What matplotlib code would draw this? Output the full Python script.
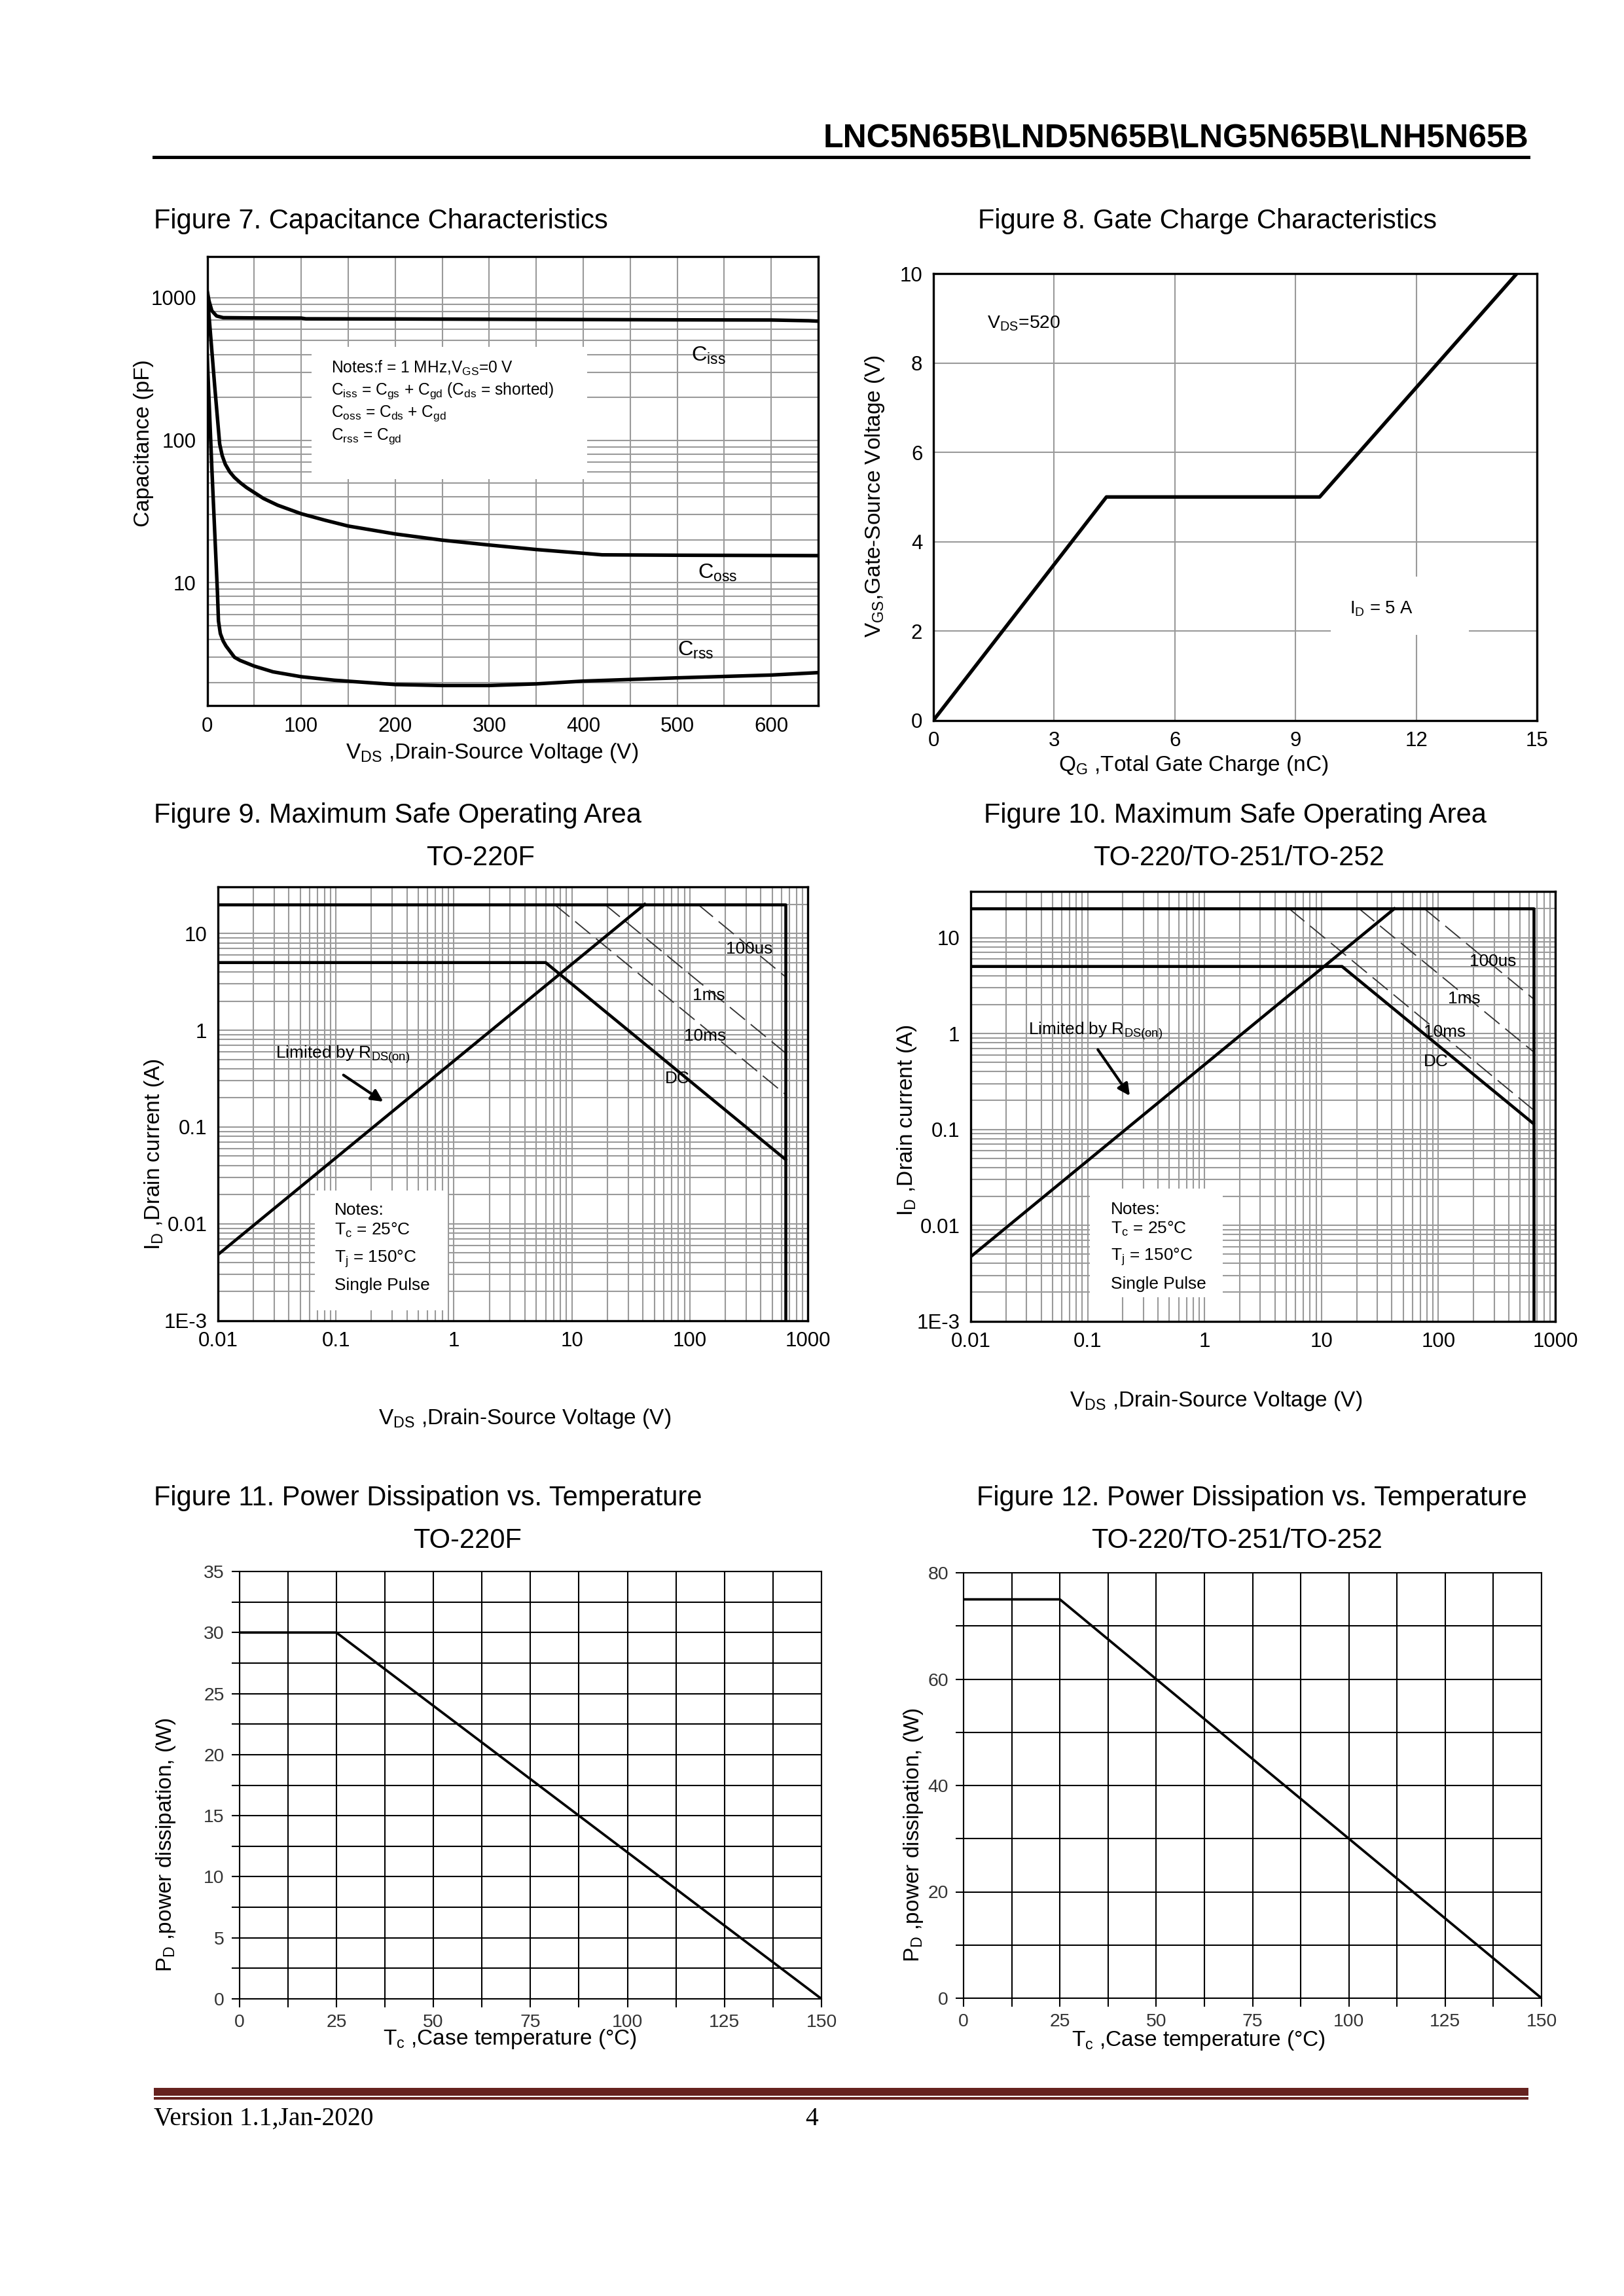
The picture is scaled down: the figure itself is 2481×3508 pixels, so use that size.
import matplotlib
matplotlib.use("Agg")
import matplotlib.pyplot as plt
from matplotlib import font_manager
from matplotlib.patches import Rectangle
from matplotlib.lines import Line2D
from matplotlib.ticker import MultipleLocator, LogLocator, NullFormatter, FixedLocator

# ---------------- data ----------------
# Figure 7 - capacitance (V, pF)
ciss_v = [0, 2, 5, 10, 17, 50, 100, 105, 200, 350, 500, 600, 640, 650]
ciss_c = [1120, 950, 810, 745, 725, 722, 720, 712, 710, 705, 700, 698, 690, 685]
coss_v = [0, 4, 8, 13.3, 16, 19.3, 24, 28.8, 35, 42, 50, 60, 75, 100, 125, 150, 200, 250, 300, 350, 400, 420, 500, 650]
coss_c = [1080, 510, 240, 94, 78, 67.8, 60, 55, 50.5, 46.5, 43, 39, 35, 30.5, 27.5, 25, 22, 19.9, 18.4, 17.1, 16.1, 15.7, 15.6, 15.5]
crss_v = [0, 5, 10.9, 12, 14, 17, 20, 29, 35, 50, 70, 100, 135, 200, 250, 300, 350, 400, 500, 600, 650]
crss_c = [400, 63, 8.6, 5.4, 4.4, 3.9, 3.6, 3.0, 2.85, 2.6, 2.37, 2.19, 2.07, 1.93, 1.9, 1.9, 1.95, 2.04, 2.15, 2.25, 2.34]

# Figure 8 - gate charge
qg_nc = [0, 4.3, 9.6, 14.5]
vgs_v = [0, 5, 5, 10]

# Figure 9 - SOA TO-220F
soa9_lim_v = [0.01, 650, 650]
soa9_lim_i = [20, 20, 0.001]
soa9_rds_v = [0.01, 41.5]
soa9_rds_i = [0.0048, 20]
soa9_dc_v = [0.01, 6.0, 650]
soa9_dc_i = [5, 5, 0.046]
soa9_100us_v = [117, 650]
soa9_100us_i = [20, 3.55]
soa9_1ms_v = [19.0, 650]
soa9_1ms_i = [20, 0.58]
soa9_10ms_v = [7.1, 650]
soa9_10ms_i = [20, 0.216]

# Figure 10 - SOA TO-220/TO-251/TO-252
soa10_lim_v = [0.01, 650, 650]
soa10_lim_i = [20, 20, 0.001]
soa10_rds_v = [0.01, 42]
soa10_rds_i = [0.0047, 20]
soa10_dc_v = [0.01, 15, 650]
soa10_dc_i = [5, 5, 0.115]
soa10_100us_v = [76, 650]
soa10_100us_i = [20, 2.3]
soa10_1ms_v = [21, 650]
soa10_1ms_i = [20, 0.645]
soa10_10ms_v = [5.3, 650]
soa10_10ms_i = [20, 0.16]

# Figures 11/12 - power derating
tc_11 = [0, 25, 150]
pd_11 = [30, 30, 0]
tc_12 = [0, 25, 150]
pd_12 = [75, 75, 0]

log_x_ticks = [0.01, 0.1, 1, 10, 100, 1000]
log_x_labels = ['0.01', '0.1', '1', '10', '100', '1000']
log_y_ticks = [0.001, 0.01, 0.1, 1, 10]
log_y_labels = ['1E-3', '0.01', '0.1', '1', '10']

# ---------------- fonts ----------------
def pick(*names):
    avail = {f.name for f in font_manager.fontManager.ttflist}
    for n in names:
        if n in avail:
            return n
    return 'DejaVu Sans'

SANS = pick('Liberation Sans', 'Arial', 'DejaVu Sans')
NARROW = pick('Liberation Sans Narrow', 'Arial Narrow', SANS)
SERIF = pick('Liberation Serif', 'DejaVu Serif')

plt.rcParams.update({
    'font.family': [SANS, 'DejaVu Sans'],
    'mathtext.fontset': 'custom',
    'mathtext.rm': SANS,
    'mathtext.it': SANS + ':italic',
    'mathtext.bf': SANS + ':bold',
    'mathtext.default': 'regular',
    'axes.linewidth': 0.8,
})

W, H = 2481, 3508
fig = plt.figure(figsize=(W / 300, H / 300), dpi=300)
fig.patch.set_facecolor('white')


def box(x0, y0, x1, y1):
    return [x0 / W, 1 - y1 / H, (x1 - x0) / W, (y1 - y0) / H]


def ftext(x, y, s, **kw):
    fig.text(x / W, 1 - y / H, s, **kw)


GRID = '#9a9a9a'
TICK_FS = 7.5
LAB_FS = 8.0
TITLE_FS = 10.0
NOTE_FS = 6.3

# ---------------- header / footer ----------------
ftext(2335, 224, 'LNC5N65B\\LND5N65B\\LNG5N65B\\LNH5N65B', ha='right', va='baseline',
      fontsize=12, fontweight='bold')
fig.add_artist(Line2D([235 / W, 2335 / W], [1 - 240 / H, 1 - 240 / H], lw=1.2, color='black'))
fig.add_artist(Rectangle((235 / W, 1 - 3202 / H), (2335 - 235) / W, 12.5 / H,
                         transform=fig.transFigure, fc='#66221f', ec='none'))
fig.add_artist(Rectangle((235 / W, 1 - 3208 / H), (2335 - 235) / W, 4.5 / H,
                         transform=fig.transFigure, fc='#66221f', ec='none'))
ftext(235, 3247, 'Version 1.1,Jan-2020', ha='left', va='baseline', fontsize=9.5, family=SERIF)
ftext(1240, 3247, '4', ha='center', va='baseline', fontsize=9.5, family=SERIF)

# ---------------- titles ----------------
ftext(235, 349, 'Figure 7. Capacitance Characteristics', fontsize=TITLE_FS, va='baseline')
ftext(1494, 349, 'Figure 8. Gate Charge Characteristics', fontsize=TITLE_FS, va='baseline')
ftext(235, 1257, 'Figure 9. Maximum Safe Operating Area', fontsize=TITLE_FS, va='baseline')
ftext(734, 1322, 'TO-220F', fontsize=TITLE_FS, va='baseline', ha='center')
ftext(1503, 1257, 'Figure 10. Maximum Safe Operating Area', fontsize=TITLE_FS, va='baseline')
ftext(1893, 1322, 'TO-220/TO-251/TO-252', fontsize=TITLE_FS, va='baseline', ha='center')
ftext(235, 2300, 'Figure 11. Power Dissipation vs. Temperature', fontsize=TITLE_FS, va='baseline')
ftext(714, 2365, 'TO-220F', fontsize=TITLE_FS, va='baseline', ha='center')
ftext(1492, 2300, 'Figure 12. Power Dissipation vs. Temperature', fontsize=TITLE_FS, va='baseline')
ftext(1890, 2365, 'TO-220/TO-251/TO-252', fontsize=TITLE_FS, va='baseline', ha='center')


def place_labels(ax, xl, xpos, yl, ypos, fs=LAB_FS):
    ax.set_xlabel(xl, fontsize=fs)
    ax.set_ylabel(yl, fontsize=fs)
    ax.xaxis.set_label_coords(*xpos)
    ax.yaxis.set_label_coords(*ypos)
    ax.xaxis.label.set_va('center')
    ax.yaxis.label.set_va('center')


# ---------------- Figure 7 ----------------
ax7 = fig.add_axes(box(316.5, 392, 1250, 1078))
ax7.set_yscale('log')
ax7.set_xlim(0, 650)
ax7.set_ylim(1.374, 1946)
ax7.set_xticks([0, 100, 200, 300, 400, 500, 600])
ax7.xaxis.set_minor_locator(MultipleLocator(50))
ax7.yaxis.set_major_locator(FixedLocator([10, 100, 1000]))
ax7.set_yticklabels(['10', '100', '1000'])
ax7.yaxis.set_minor_locator(LogLocator(base=10, subs=range(2, 10)))
ax7.yaxis.set_minor_formatter(NullFormatter())
ax7.grid(which='both', color=GRID, lw=0.5)
ax7.set_axisbelow(True)
ax7.tick_params(which='both', length=0, labelsize=TICK_FS, pad=4)
ax7.add_patch(Rectangle((111, 53.6), 404 - 111, 453 - 53.6, fc='white', ec='none', zorder=1))
ax7.plot(ciss_v, ciss_c, color='black', lw=1.3, zorder=3)
ax7.plot(coss_v, coss_c, color='black', lw=1.3, zorder=3)
ax7.plot(crss_v, crss_c, color='black', lw=1.3, zorder=3)
for yv, s in zip([321, 223, 154, 106],
                 ['Notes:f = 1 MHz,V$_{GS}$=0 V',
                  'C$_{iss}$ = C$_{gs}$ + C$_{gd}$ (C$_{ds}$ = shorted)',
                  'C$_{oss}$ = C$_{ds}$ + C$_{gd}$',
                  'C$_{rss}$ = C$_{gd}$']):
    ax7.text(132, yv, s, fontsize=5.9, va='center', ha='left', zorder=4)
ax7.text(515, 394, 'C$_{iss}$', fontsize=7.8, va='center', zorder=4)
ax7.text(522, 11.7, 'C$_{oss}$', fontsize=7.8, va='center', zorder=4)
ax7.text(500, 3.36, 'C$_{rss}$', fontsize=7.8, va='center', zorder=4)
place_labels(ax7, 'V$_{DS}$ ,Drain-Source Voltage (V)', (0.4665, -0.106),
             'Capacitance (pF)', (-0.1044, 0.585))

# ---------------- Figure 8 ----------------
ax8 = fig.add_axes(box(1426, 418, 2348, 1100.6))
ax8.set_xlim(0, 15)
ax8.set_ylim(0, 10)
ax8.set_xticks([0, 3, 6, 9, 12, 15])
ax8.set_yticks([0, 2, 4, 6, 8, 10])
ax8.grid(which='major', color=GRID, lw=0.5)
ax8.set_axisbelow(True)
ax8.tick_params(length=0, labelsize=TICK_FS, pad=4)
ax8.add_patch(Rectangle((9.88, 1.91), 13.3 - 9.88, 3.22 - 1.91, fc='white', ec='none', zorder=1))
ax8.plot(qg_nc, vgs_v, color='black', lw=1.3, zorder=3)
ax8.text(1.34, 8.88, 'V$_{DS}$=520', fontsize=6.8, va='center', zorder=4)
ax8.text(10.35, 2.5, 'I$_{D}$ = 5 A', fontsize=6.6, va='center', zorder=4)
place_labels(ax8, 'Q$_{G}$ ,Total Gate Charge (nC)', (0.4306, -0.101),
             'V$_{GS}$,Gate-Source Voltage (V)', (-0.0976, 0.502))


# ---------------- Figures 9 / 10 ----------------
def soa(ax, lim, rds, dc, us100, ms1, ms10, labels, limtxt, arrow, notes_box, notes_x, notes_y,
        xlab_pos, ylab_pos):
    ax.set_xscale('log')
    ax.set_yscale('log')
    ax.set_xlim(0.01, 1000)
    ax.set_ylim(0.001, 30.3)
    ax.xaxis.set_major_locator(FixedLocator(log_x_ticks))
    ax.set_xticklabels(log_x_labels)
    ax.yaxis.set_major_locator(FixedLocator(log_y_ticks))
    ax.set_yticklabels(log_y_labels)
    ax.xaxis.set_minor_locator(LogLocator(base=10, subs=range(2, 10), numticks=20))
    ax.yaxis.set_minor_locator(LogLocator(base=10, subs=range(2, 10), numticks=20))
    ax.xaxis.set_minor_formatter(NullFormatter())
    ax.yaxis.set_minor_formatter(NullFormatter())
    ax.grid(which='both', color=GRID, lw=0.5)
    ax.set_axisbelow(True)
    ax.tick_params(which='both', length=0, labelsize=TICK_FS, pad=4)
    (bx0, bx1, by0, by1) = notes_box
    ax.add_patch(Rectangle((bx0, by0), bx1 - bx0, by1 - by0, fc='white', ec='none', zorder=1))
    for v, i in (lim, rds, dc):
        ax.plot(v, i, color='black', lw=1.1, zorder=3)
    for v, i in (us100, ms1, ms10):
        ax.plot(v, i, color='#333333', lw=0.45, ls=(0, (16, 6)), zorder=2)
    for (x, y, s) in labels:
        ax.text(x, y, s, fontsize=NOTE_FS, va='center', ha='left', zorder=4)
    ax.text(limtxt[0], limtxt[1], 'Limited by R$_{DS(on)}$', fontsize=NOTE_FS, va='center', ha='left', zorder=4)
    ax.annotate('', xy=arrow[1], xytext=arrow[0],
                arrowprops=dict(arrowstyle='-|>', color='black', lw=1.0, mutation_scale=9), zorder=4)
    for yv, s in zip(notes_y, ['Notes:', 'T$_{c}$ = 25°C', 'T$_{j}$ = 150°C', 'Single Pulse']):
        ax.text(notes_x, yv, s, fontsize=NOTE_FS, va='center', ha='left', zorder=4)
    place_labels(ax, 'V$_{DS}$ ,Drain-Source Voltage (V)', xlab_pos,
                 'I$_{D}$ ,Drain current (A)', ylab_pos)


ax9 = fig.add_axes(box(333, 1355, 1234, 2017.6))
soa(ax9, (soa9_lim_v, soa9_lim_i), (soa9_rds_v, soa9_rds_i), (soa9_dc_v, soa9_dc_i),
    (soa9_100us_v, soa9_100us_i), (soa9_1ms_v, soa9_1ms_i), (soa9_10ms_v, soa9_10ms_i),
    [(203, 6.95, '100us'), (106, 2.28, '1ms'), (89, 0.863, '10ms'), (61.8, 0.316, 'DC')],
    (0.0308, 0.56), ((0.106, 0.37), (0.275, 0.17)),
    (0.066, 0.885, 0.00127, 0.0222), 0.0975, [0.0138, 0.00855, 0.00436, 0.0023],
    (0.5205, -0.2255), (-0.108, 0.383))

ax10 = fig.add_axes(box(1483, 1362, 2376, 2018.6))
soa(ax10, (soa10_lim_v, soa10_lim_i), (soa10_rds_v, soa10_rds_i), (soa10_dc_v, soa10_dc_i),
    (soa10_100us_v, soa10_100us_i), (soa10_1ms_v, soa10_1ms_i), (soa10_10ms_v, soa10_10ms_i),
    [(185, 5.64, '100us'), (121, 2.29, '1ms'), (74.6, 1.04, '10ms'), (74.6, 0.51, 'DC')],
    (0.0311, 1.06), ((0.115, 0.757), (0.244, 0.201)),
    (0.104, 1.43, 0.00177, 0.0243), 0.157, [0.0146, 0.0092, 0.00468, 0.00243],
    (0.42, -0.185), (-0.109, 0.467))


# ---------------- Figures 11 / 12 ----------------
def derate(ax, tc, pd, ymax, ymaj, ymin, xlab_pos, ylab_pos):
    ax.set_xlim(0, 150)
    ax.set_ylim(0, ymax)
    ax.set_xticks([0, 25, 50, 75, 100, 125, 150])
    ax.xaxis.set_minor_locator(MultipleLocator(12.5))
    ax.yaxis.set_major_locator(MultipleLocator(ymaj))
    ax.yaxis.set_minor_locator(MultipleLocator(ymin))
    ax.grid(which='both', color='black', lw=0.5)
    ax.set_axisbelow(True)
    for sp in ax.spines.values():
        sp.set_linewidth(0.5)
    ax.tick_params(which='both', direction='out', length=3, width=0.5, pad=2.5,
                   labelsize=6.8, labelcolor='#333333')
    for lab in ax.get_xticklabels() + ax.get_yticklabels():
        lab.set_family(NARROW)
    ax.plot(tc, pd, color='black', lw=0.9, zorder=3)
    place_labels(ax, 'T$_{c}$ ,Case temperature (°C)', xlab_pos,
                 'P$_{D}$ ,power dissipation, (W)', ylab_pos)


ax11 = fig.add_axes(box(365.6, 2401, 1255, 3054))
derate(ax11, tc_11, pd_11, 35, 5, 2.5, (0.4646, -0.094), (-0.1255, 0.3606))
ax12 = fig.add_axes(box(1472, 2403, 2355, 3053))
derate(ax12, tc_12, pd_12, 80, 20, 10, (0.4061, -0.0994), (-0.0863, 0.3837))

fig.savefig('out.png', dpi=300, facecolor='white')
